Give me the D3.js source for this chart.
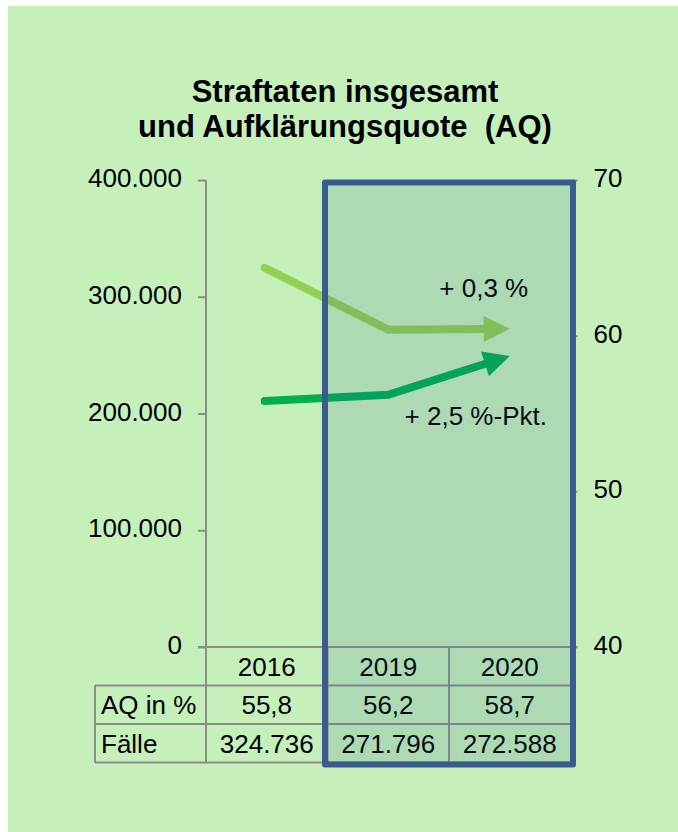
<!DOCTYPE html>
<html>
<head>
<meta charset="utf-8">
<script src="https://cdn.jsdelivr.net/npm/d3@7"></script>
<style>
  html, body { margin: 0; padding: 0; background: #fff; }
  svg { display: block; font-family: "Liberation Sans", Arial, sans-serif; }
</style>
</head>
<body>
<div id="chart"></div>
<script>
// Daten
const years = ["2016", "2019", "2020"];
const faelle = [324736, 271796, 272588];
const aq = [55.8, 56.2, 58.7];
const leftTicks = [0, 100000, 200000, 300000, 400000];
const rightTicks = [40, 50, 60, 70];
const highlightYears = ["2019", "2020"];
const titleLines = ["Straftaten insgesamt", "und Aufklärungsquote  (AQ)"];
const rowLabels = ["AQ in %", "Fälle"];
const notes = ["+ 0,3 %", "+ 2,5 %-Pkt."];

(function () {
    const width = 678, height = 832;
    const grid = "#8c8c8c";
    const lightGreen = "#92d050";
    const darkGreen = "#00b050";

    // deutsches Zahlenformat
    const de = d3.formatLocale({ decimal: ",", thousands: ".", grouping: [3], currency: ["", " €"] });
    const fmtInt = de.format(",d");
    const fmtAq = de.format(".1f");

    const svg = d3.select("#chart").append("svg")
        .attr("width", width)
        .attr("height", height);

    // Hintergrund
    svg.append("rect")
        .attr("x", 8).attr("y", 6)
        .attr("width", width - 8).attr("height", height - 6)
        .attr("fill", "#c6f0b9");

    // Titel (doppeltes Leerzeichen bleibt erhalten)
    svg.append("g")
        .attr("text-anchor", "middle")
        .style("font-size", "31px")
        .style("font-weight", "bold")
        .selectAll("text")
        .data(titleLines)
        .join("text")
        .attr("xml:space", "preserve")
        .attr("x", 345)
        .attr("y", (d, i) => 102 + i * 34.5)
        .text(d => d);

    // Skalen
    const x = d3.scaleBand().domain(years).range([206, 570.5]).padding(0);
    const xc = d => x(d) + x.bandwidth() / 2;
    const yL = d3.scaleLinear().domain([0, 400000]).range([647, 180]);
    const yR = d3.scaleLinear().domain([40, 70]).range([647, 180]);

    const rowH = 38.5;
    const tableTop = yL(0);
    const tableBottom = tableTop + rowH * 3;
    const labelLeft = 95;

    // linke Achse
    const axL = svg.append("g")
        .attr("transform", `translate(${x.range()[0]},0)`)
        .call(d3.axisLeft(yL).tickValues(leftTicks).tickFormat(d => fmtInt(d)).tickSize(8).tickPadding(16));
    axL.select(".domain").remove();
    axL.selectAll("line").attr("stroke", grid).attr("stroke-width", 2);
    axL.selectAll("text").style("font-size", "26px").attr("fill", "#000").attr("dy", "0.25em");

    // rechte Achse
    const axR = svg.append("g")
        .attr("transform", `translate(${x.range()[1] + 2},0)`)
        .call(d3.axisRight(yR).tickValues(rightTicks).tickSize(5).tickPadding(16));
    axR.select(".domain").remove();
    axR.selectAll("line").attr("stroke", grid).attr("stroke-width", 2);
    axR.selectAll("text").style("font-size", "26px").attr("fill", "#000").attr("dy", "0.25em");

    // Tabellenraster
    const gridG = svg.append("g").attr("stroke", grid).attr("stroke-width", 2);
    gridG.append("line")
        .attr("x1", x.range()[0]).attr("x2", x.range()[0])
        .attr("y1", yL(400000)).attr("y2", tableBottom);
    gridG.append("line")
        .attr("x1", x.range()[0] - 8).attr("x2", x.range()[1] + 7)
        .attr("y1", tableTop).attr("y2", tableTop);
    [1, 2, 3].forEach(r => {
        gridG.append("line")
            .attr("x1", labelLeft).attr("x2", x.range()[1])
            .attr("y1", tableTop + r * rowH).attr("y2", tableTop + r * rowH);
    });
    gridG.append("line")
        .attr("x1", labelLeft).attr("x2", labelLeft)
        .attr("y1", tableTop + rowH).attr("y2", tableBottom);
    years.slice(1).forEach(yr => {
        gridG.append("line")
            .attr("x1", x(yr)).attr("x2", x(yr))
            .attr("y1", tableTop).attr("y2", tableBottom);
    });

    // Tabelleninhalt
    const cells = svg.append("g").style("font-size", "26px").attr("fill", "#000");
    const rows = [years, aq.map(fmtAq), faelle.map(fmtInt)];
    rows.forEach((vals, r) => {
        cells.selectAll(null)
            .data(vals)
            .join("text")
            .attr("text-anchor", "middle")
            .attr("x", (d, i) => xc(years[i]))
            .attr("y", tableTop + r * rowH + rowH / 2)
            .attr("dy", "0.36em")
            .text(d => d);
    });
    cells.selectAll(null)
        .data(rowLabels)
        .join("text")
        .attr("x", labelLeft + 6)
        .attr("y", (d, i) => tableTop + (i + 1) * rowH + rowH / 2)
        .attr("dy", "0.36em")
        .text(d => d);

    // Pfeillinien
    function arrow(points, color) {
        const n = points.length;
        const [x1, y1] = points[n - 2];
        const [x2, y2] = points[n - 1];
        const ang = Math.atan2(y2 - y1, x2 - x1);
        const len = 26, half = 13;
        const bx = x2 - len * Math.cos(ang), by = y2 - len * Math.sin(ang);
        const linePts = points.slice(0, n - 1).concat([[bx + 2 * Math.cos(ang), by + 2 * Math.sin(ang)]]);
        svg.append("path")
            .attr("d", d3.line()(linePts))
            .attr("fill", "none")
            .attr("stroke", color)
            .attr("stroke-width", 8)
            .attr("stroke-linecap", "round")
            .attr("stroke-linejoin", "miter");
        const nx = -Math.sin(ang), ny = Math.cos(ang);
        svg.append("path")
            .attr("d", d3.line()([[x2, y2], [bx + nx * half, by + ny * half], [bx - nx * half, by - ny * half]]) + "Z")
            .attr("fill", color);
    }

    arrow(years.map((yr, i) => [xc(yr) - (i === 0 ? 2 : 0), yL(faelle[i])]), lightGreen);
    arrow(years.map((yr, i) => [xc(yr) - (i === 0 ? 2 : 0), yR(aq[i])]), darkGreen);

    // Hinweise
    const last = years.length - 1;
    svg.append("text")
        .attr("text-anchor", "middle")
        .style("font-size", "26px")
        .attr("x", xc(years[last]) - 26)
        .attr("y", yL(faelle[last]) - 32)
        .text(notes[0]);
    svg.append("text")
        .attr("text-anchor", "middle")
        .style("font-size", "26px")
        .attr("x", xc(years[last]) - 34)
        .attr("y", yR(aq[last]) + 69)
        .text(notes[1]);

    // Hervorhebungsrahmen 2019/2020
    const bx0 = x(highlightYears[0]) - 2.5;
    const bx1 = x(highlightYears[highlightYears.length - 1]) + x.bandwidth() + 2.5;
    svg.append("rect")
        .attr("x", bx0)
        .attr("y", yL(400000) + 2.5)
        .attr("width", bx1 - bx0)
        .attr("height", tableBottom + 2 - yL(400000) - 2.5)
        .attr("fill", "rgba(31,92,150,0.15)")
        .attr("stroke", "#3b5b8f")
        .attr("stroke-width", 6)
        .attr("stroke-linejoin", "round");
})();
</script>
</body>
</html>
